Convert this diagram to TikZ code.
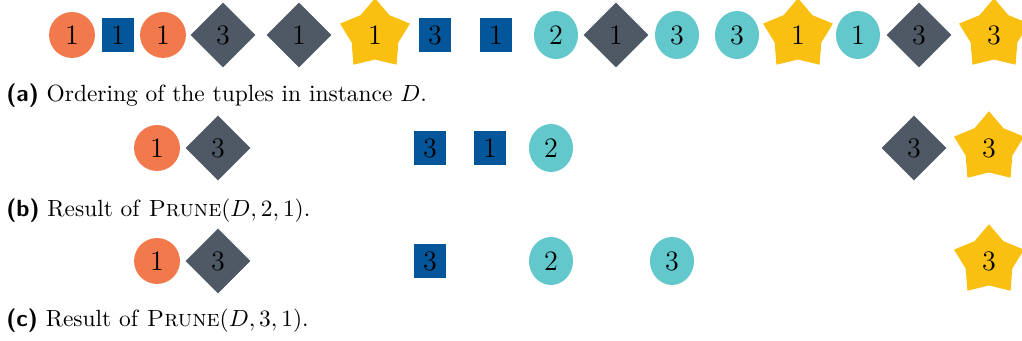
\documentclass[tikz,border=0pt]{standalone}
\usetikzlibrary{shapes.geometric}
\definecolor{corange}{RGB}{242,121,76}
\definecolor{cblue}{RGB}{2,86,153}
\definecolor{cgray}{RGB}{78,89,101}
\definecolor{cyellow}{RGB}{249,192,18}
\definecolor{ccyan}{RGB}{98,200,203}
\tikzset{
  tup/.style={inner sep=0pt, font=\large, text=black},
  circ/.style={tup, circle, fill=corange, minimum size=19.6pt},
  sqr/.style={tup, rectangle, fill=cblue, minimum width=13.6pt, minimum height=14.9pt},
  ell/.style={tup, ellipse, fill=ccyan, minimum width=18.8pt, minimum height=20.5pt},
  dia/.style={tup, diamond, fill=cgray, minimum size=27.8pt},
  str/.style={tup, star, star points=5, star point ratio=1.5, fill=cyellow, minimum size=31.4pt},
  capt/.style={anchor=base west, inner sep=0pt, font=\normalsize}
}
\begin{document}
\begin{tikzpicture}[x=0.427pt,y=-0.427pt]
\useasboundingbox (0,0) rectangle (1022,341);
% row (a)
\node[circ] (a1) at (72,35) {1};
\node[sqr]  (a2) at (118,35) {1};
\node[circ] (a3) at (163,35) {1};
\node[dia]  (a4) at (223,35) {3};
\node[dia]  (a5) at (299,35) {1};
\node[str]  (a6) at (375,35) {1};
\node[sqr]  (a7) at (435,35) {3};
\node[sqr]  (a8) at (496,35) {1};
\node[ell]  (a9) at (556,35) {2};
\node[dia]  (a10) at (616,35) {1};
\node[ell]  (a11) at (677,35) {3};
\node[ell]  (a12) at (737,35) {3};
\node[str]  (a13) at (798,35) {1};
\node[ell]  (a14) at (858,35) {1};
\node[dia]  (a15) at (919,35) {3};
\node[str]  (a16) at (994,35) {3};
\node[capt] (ca) at (6,102) {\textsf{\textbf{(a)}} Ordering of the tuples in instance $D$.};
% row (b)
\node[circ] (b1) at (157,148) {1};
\node[dia]  (b2) at (218,148) {3};
\node[sqr]  (b3) at (430,148) {3};
\node[sqr]  (b4) at (490,148) {1};
\node[ell]  (b5) at (551,148) {2};
\node[dia]  (b6) at (914,148) {3};
\node[str]  (b7) at (989,148) {3};
\node[capt] (cb) at (6,216.5) {\textsf{\textbf{(b)}} Result of \textsc{Prune}$(D,2,1)$.};
% row (c)
\node[circ] (c1) at (157,261) {1};
\node[dia]  (c2) at (218,261) {3};
\node[sqr]  (c3) at (430,261) {3};
\node[ell]  (c4) at (551,261) {2};
\node[ell]  (c5) at (672,261) {3};
\node[str]  (c6) at (989,261) {3};
\node[capt] (cc) at (6,327) {\textsf{\textbf{(c)}} Result of \textsc{Prune}$(D,3,1)$.};
\end{tikzpicture}
\end{document}
